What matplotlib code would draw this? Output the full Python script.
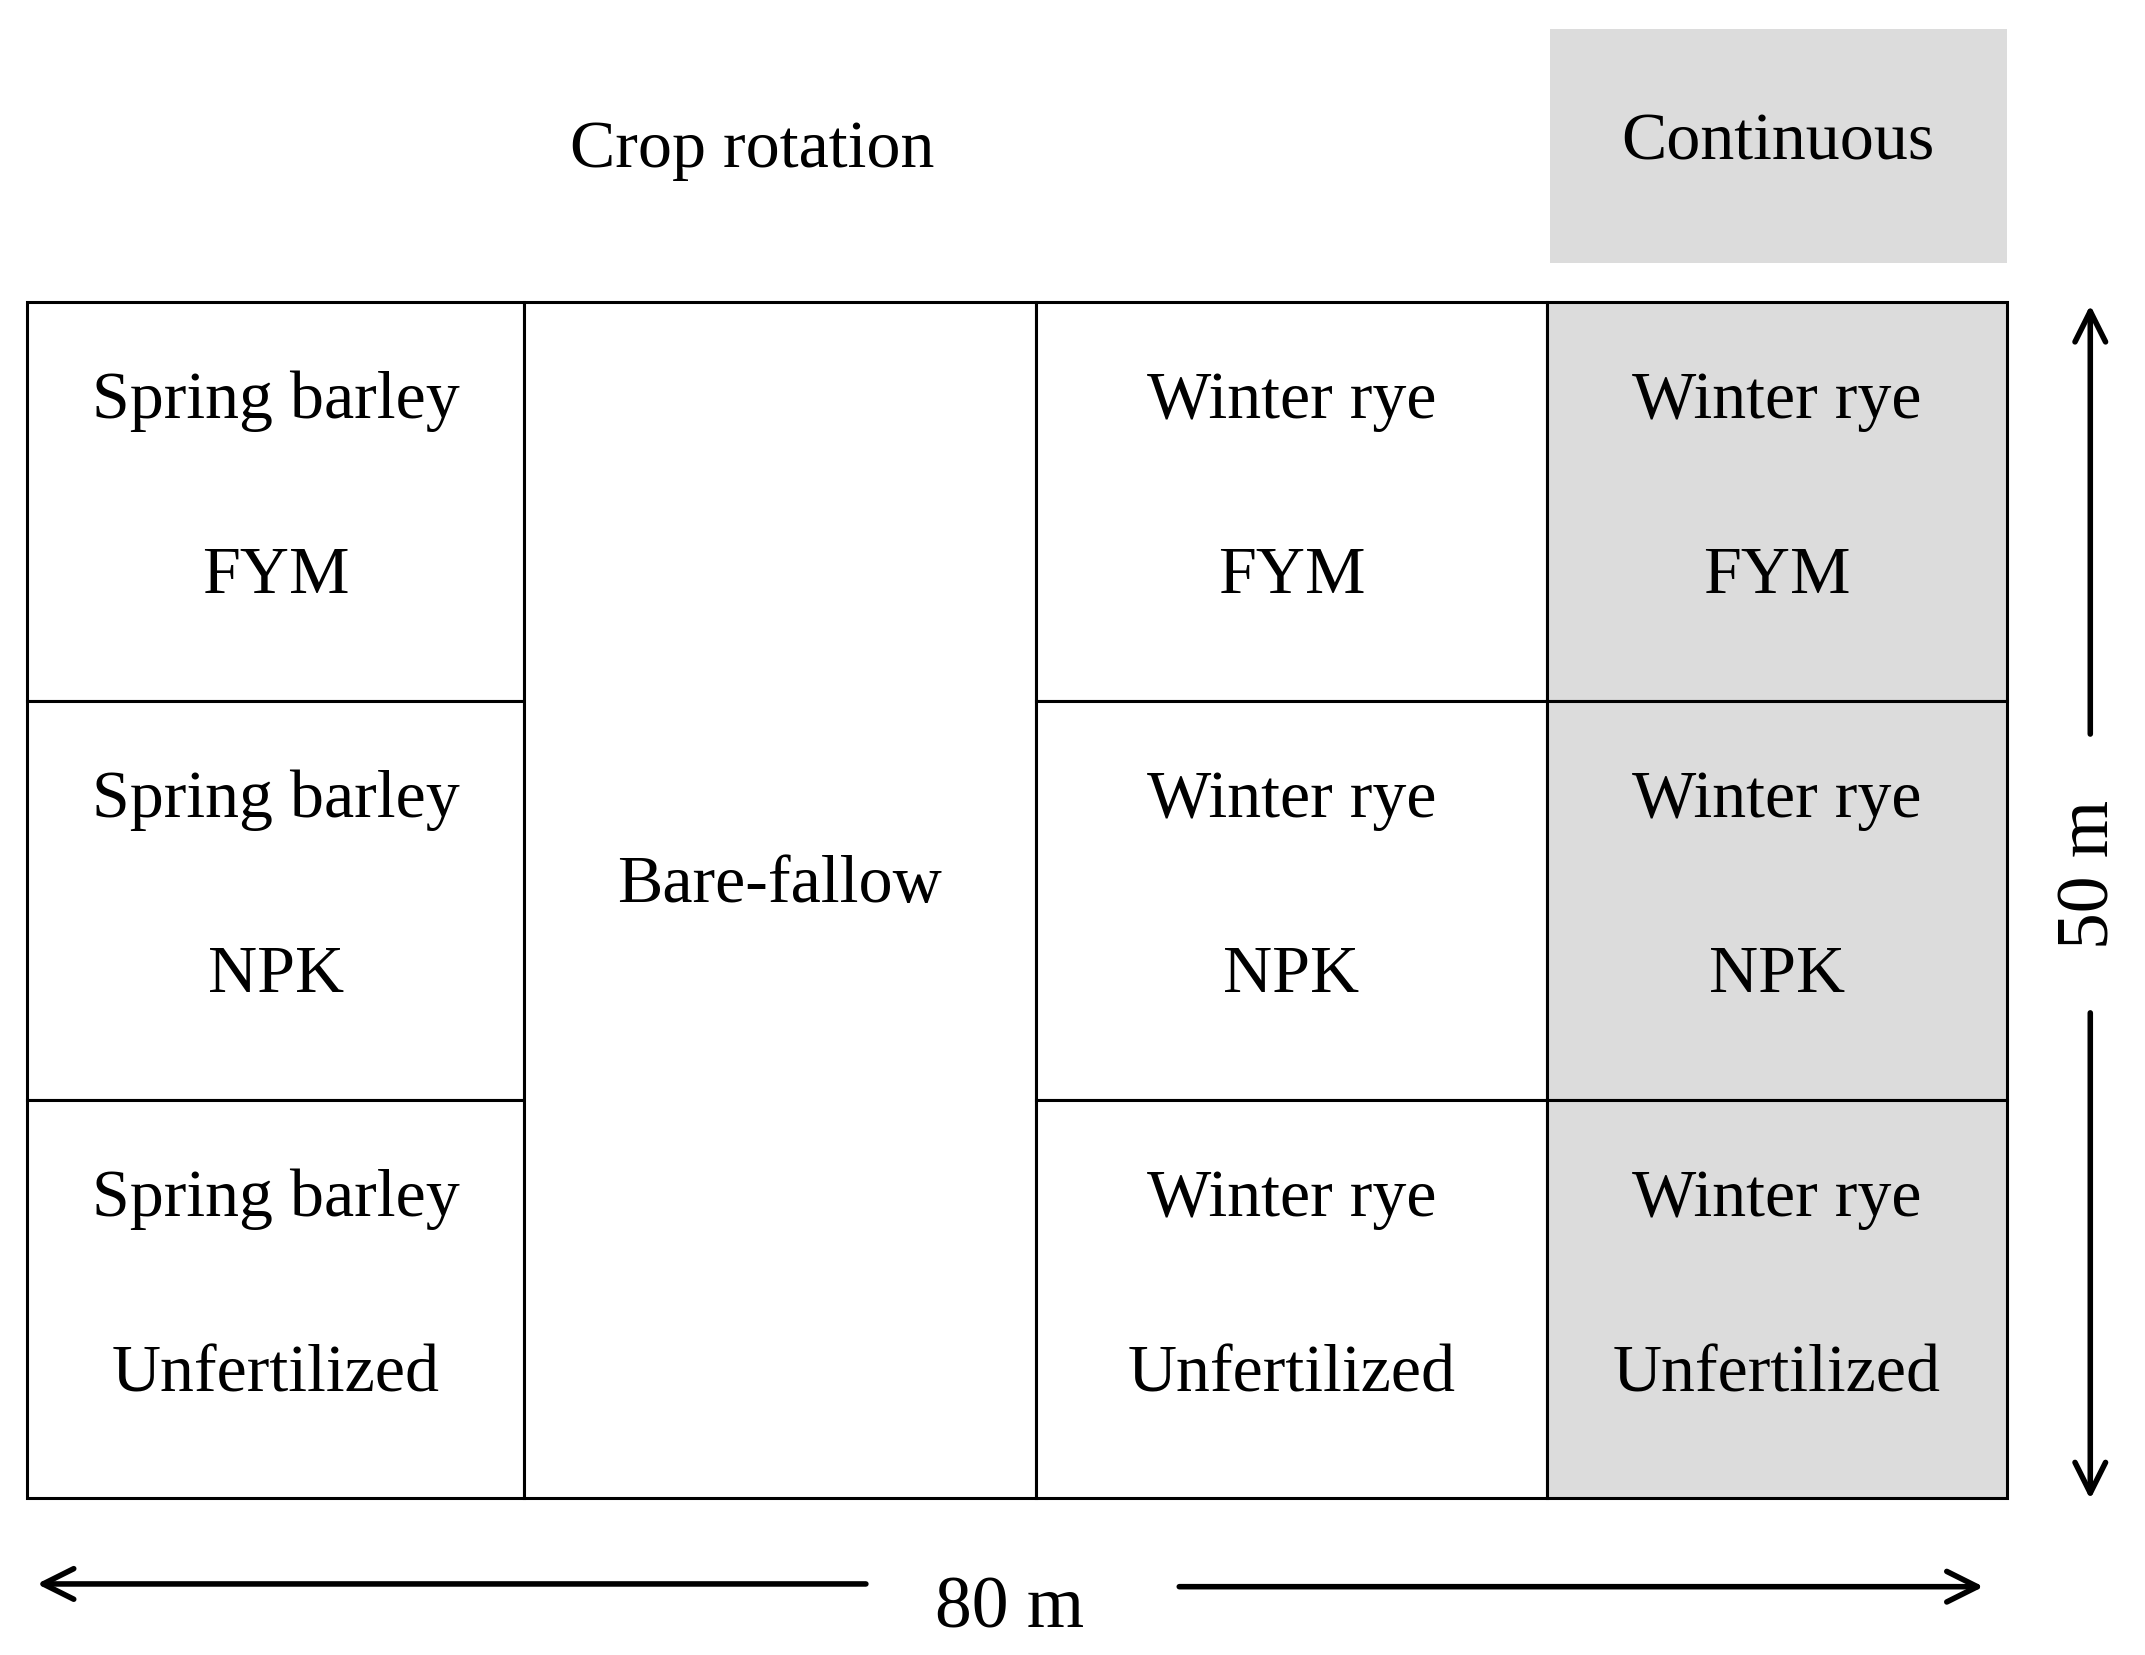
import matplotlib
matplotlib.use("Agg")
import matplotlib.pyplot as plt
from matplotlib.patches import Rectangle

col_edges = [20, 383, 757, 1131, 1467]
row_edges = [222, 514, 806, 1097]
crops = ["Spring barley", None, "Winter rye", "Winter rye"]
treatments = ["FYM", "NPK", "Unfertilized"]
shaded = [False, False, False, True]
header_rotation = "Crop rotation"
header_continuous = "Continuous"
center_label = "Bare-fallow"
width_label = "80 m"
height_label = "50 m"

plt.rcParams['font.family'] = ['Liberation Serif', 'DejaVu Serif']
fig = plt.figure(figsize=(21.45, 16.56), dpi=100)
ax = fig.add_axes([0, 0, 1, 1])
ax.set_xlim(0, 1568)
ax.set_ylim(1212, 0)
ax.axis('off')
fs = 49
grey = '#dcdcdc'
lw = 2.2

ax.add_patch(Rectangle((1133, 22), 1467 - 1133, 193 - 22, facecolor=grey, edgecolor='none'))
ax.text(1300, 105, header_continuous, ha='center', va='center', fontsize=fs)
ax.text(550, 110, header_rotation, ha='center', va='center', fontsize=fs)

for ci in range(4):
    x0, x1 = col_edges[ci], col_edges[ci + 1]
    if crops[ci] is None:
        ax.add_patch(Rectangle((x0, row_edges[0]), x1 - x0, row_edges[-1] - row_edges[0],
                               facecolor='white', edgecolor='black', lw=lw))
        ax.text((x0 + x1) / 2, 648, center_label,
                ha='center', va='center', fontsize=fs)
        continue
    for ri in range(3):
        y0, y1 = row_edges[ri], row_edges[ri + 1]
        ax.add_patch(Rectangle((x0, y0), x1 - x0, y1 - y0,
                               facecolor=grey if shaded[ci] else 'white', edgecolor='black', lw=lw))
        xc = (x0 + x1) / 2
        ax.text(xc, y0 + 72, crops[ci], ha='center', va='center', fontsize=fs)
        ax.text(xc, y0 + 200, treatments[ri], ha='center', va='center', fontsize=fs)

akw = dict(arrowstyle='->,head_length=2.2,head_width=1.1', lw=4, color='black')
ax.annotate('', xy=(25, 1160), xytext=(635, 1160), arrowprops=akw)
ax.annotate('', xy=(1452, 1162), xytext=(860, 1162), arrowprops=akw)
ax.text(738, 1178, width_label, ha='center', va='center', fontsize=fs + 4)
ax.annotate('', xy=(1528, 222), xytext=(1528, 540), arrowprops=akw)
ax.annotate('', xy=(1528, 1100), xytext=(1528, 740), arrowprops=akw)
ax.text(1528, 640, height_label, ha='center', va='center', fontsize=fs + 4, rotation=90)

fig.savefig('out.png', dpi=100)
